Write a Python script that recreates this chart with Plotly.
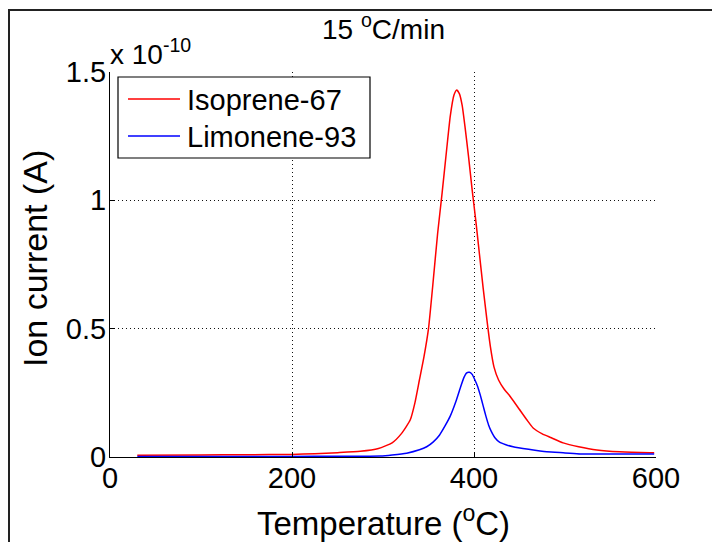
import plotly.graph_objects as go

# Temperature (°C) and ion current (units of 1e-10 A)
iso_t = [30, 100, 150, 200, 225, 250, 275, 295, 310, 320, 330, 335, 340, 345, 350, 355, 360, 365, 370,
         374, 378, 381, 384, 387, 390, 394, 398, 402, 406, 410, 414, 418, 422, 427, 433, 440, 450, 458,
         465, 475, 485, 498, 515, 535, 560, 593, 598]
iso_i = [0.007, 0.008, 0.009, 0.010, 0.013, 0.017, 0.022, 0.033, 0.055, 0.09, 0.145, 0.21, 0.30, 0.39,
         0.50, 0.68, 0.87, 1.03, 1.20, 1.33, 1.41, 1.43, 1.415, 1.37, 1.29, 1.17, 1.04, 0.92, 0.79, 0.66,
         0.54, 0.43, 0.35, 0.30, 0.265, 0.235, 0.185, 0.145, 0.113, 0.09, 0.075, 0.055, 0.04, 0.027,
         0.02, 0.017, 0.017]

lim_t = [30, 100, 200, 250, 297, 310, 326, 340, 348, 355, 362, 368, 374, 380, 385, 389, 392, 395, 398,
         401, 404, 407, 410, 413, 416, 419, 423, 428, 435, 443, 460, 480, 500, 517, 550, 593, 598]
lim_i = [0.002, 0.002, 0.002, 0.003, 0.004, 0.008, 0.015, 0.028, 0.04, 0.058, 0.085, 0.12, 0.16, 0.215,
         0.27, 0.31, 0.328, 0.33, 0.322, 0.30, 0.275, 0.24, 0.20, 0.16, 0.125, 0.10, 0.075, 0.058, 0.048,
         0.04, 0.03, 0.02, 0.016, 0.012, 0.012, 0.012, 0.012]

scale = 1e-10
x_ticks = [0, 200, 400, 600]
y_ticks = [0, 0.5, 1, 1.5]
y_tick_text = ["0", "0.5", "1", "1.5"]
series_names = ["Isoprene-67", "Limonene-93"]
series_colors = ["#ff0000", "#0000ff"]

FONT = "Liberation Sans, Arial, sans-serif"

fig = go.Figure()
for name, xs, ys, col in [(series_names[0], iso_t, iso_i, series_colors[0]),
                          (series_names[1], lim_t, lim_i, series_colors[1])]:
    fig.add_trace(go.Scatter(x=xs, y=[v * scale for v in ys], mode="lines", name=name,
                             line=dict(color=col, width=1.5, shape="spline", smoothing=0.5)))

L, R, T, B = 110, 56, 72, 85
W, H = 712, 542
pw, ph = W - L - R, H - T - B

def px(xp):
    return (xp - L) / pw

def py(yp):
    return (H - B - yp) / ph

grid = dict(showgrid=True, gridcolor="#111111", griddash="1px,3px", gridwidth=1.2)

shapes = [dict(type="rect", xref="paper", yref="paper",
               x0=px(9), x1=px(716), y0=py(546), y1=py(10),
               line=dict(color="#222222", width=2), fillcolor="rgba(0,0,0,0)", layer="above"),
          # legend box
          dict(type="rect", xref="paper", yref="paper",
               x0=px(118), x1=px(370), y0=py(158), y1=py(77),
               line=dict(color="black", width=1.2), fillcolor="white", layer="above")]
annotations = []
for i, (name, col) in enumerate(zip(series_names, series_colors)):
    yy = 99 + 37 * i
    shapes.append(dict(type="line", xref="paper", yref="paper", x0=px(128), x1=px(180),
                       y0=py(yy), y1=py(yy), line=dict(color=col, width=1.5), layer="above"))
    annotations.append(dict(text=name, xref="paper", yref="paper", x=px(185), y=py(yy + 1),
                            xanchor="left", yanchor="middle", showarrow=False,
                            font=dict(size=29, family=FONT)))

annotations += [
    dict(text="15 <sup>o</sup>C/min", xref="paper", yref="paper", x=px(383), y=py(47),
         xanchor="center", yanchor="bottom", showarrow=False, font=dict(size=28, family=FONT)),
    dict(text="x 10<sup>-10</sup>", xref="paper", yref="paper", x=px(108), y=py(72),
         xanchor="left", yanchor="bottom", showarrow=False, font=dict(size=28, family=FONT)),
    dict(text="Temperature (<sup>o</sup>C)", xref="paper", yref="paper", x=px(383), y=py(521),
         xanchor="center", yanchor="middle", showarrow=False, font=dict(size=33, family=FONT)),
    dict(text="Ion current (A)", xref="paper", yref="paper", x=px(35), y=py(259),
         xanchor="center", yanchor="middle", showarrow=False, textangle=-90,
         font=dict(size=34, family=FONT)),
]

fig.update_layout(
    width=W, height=H,
    margin=dict(l=L, r=R, t=T, b=B),
    paper_bgcolor="white", plot_bgcolor="white",
    font=dict(family=FONT, color="black"),
    showlegend=False,
    xaxis=dict(range=[0, 600], tickvals=x_ticks, ticks="inside", ticklen=5, tickcolor="black",
               showline=True, linecolor="black", linewidth=1, zeroline=False,
               ticklabelstandoff=-5, tickfont=dict(size=29, family=FONT), **grid),
    yaxis=dict(range=[0, 1.5 * scale], tickvals=[v * scale for v in y_ticks], ticktext=y_tick_text,
               ticks="inside", ticklen=5, tickcolor="black",
               showline=True, linecolor="black", linewidth=1, zeroline=False,
               ticklabelstandoff=-3, tickfont=dict(size=29, family=FONT), **grid),
    shapes=shapes,
    annotations=annotations,
)

fig.write_html("out.html")
